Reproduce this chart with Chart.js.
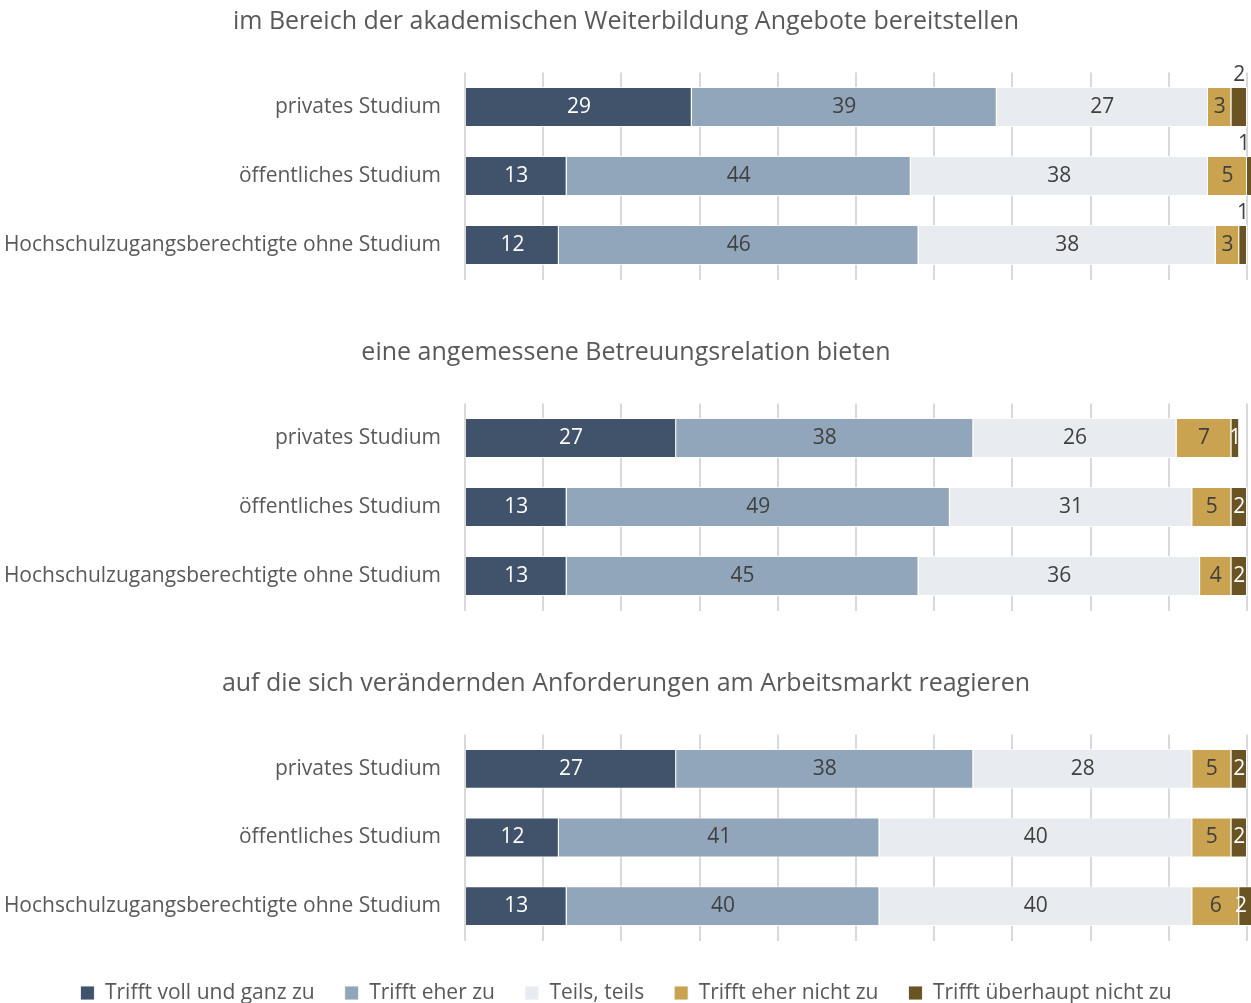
<!DOCTYPE html>
<html lang="de">
<head>
    <meta charset="UTF-8">
    <title>Zustimmung nach Studienart</title>
    <script src="https://cdn.jsdelivr.net/npm/chart.js"></script>
    <style>
        body {
            margin: 0;
            background: #ffffff;
            font-family: "Open Sans", sans-serif;
        }
        .wrap {
            position: relative;
            width: 1251px;
            height: 1003px;
            overflow: hidden;
        }
        .panel {
            position: absolute;
            left: 0;
            width: 1251px;
        }
    </style>
</head>
<body>
    <div class="wrap">
        <div class="panel" style="top:0;height:331px"><canvas id="c1"></canvas></div>
        <div class="panel" style="top:331px;height:331px"><canvas id="c2"></canvas></div>
        <div class="panel" style="top:662px;height:356px"><canvas id="c3"></canvas></div>
    </div>

    <script>
        const panelTitles = [
            'im Bereich der akademischen Weiterbildung Angebote bereitstellen',
            'eine angemessene Betreuungsrelation bieten',
            'auf die sich verändernden Anforderungen am Arbeitsmarkt reagieren'
        ];
        const categories = ['privates Studium', 'öffentliches Studium', 'Hochschulzugangsberechtigte ohne Studium'];
        const seriesNames = ['Trifft voll und ganz zu', 'Trifft eher zu', 'Teils, teils', 'Trifft eher nicht zu', 'Trifft überhaupt nicht zu'];
        const gridTicks = [0, 10, 20, 30, 40, 50, 60, 70, 80, 90, 100];

        // je drei Werte pro Block, Blöcke in der Reihenfolge der Titel
        const trifftVoll      = [29, 13, 12,  27, 13, 13,  27, 12, 13];
        const trifftEher      = [39, 44, 46,  38, 49, 45,  38, 41, 40];
        const teilsTeils      = [27, 38, 38,  26, 31, 36,  28, 40, 40];
        const eherNicht       = [3, 5, 3,     7, 5, 4,     5, 5, 6];
        const ueberhauptNicht = [2, 1, 1,     1, 2, 2,     2, 2, 2];

        const seriesValues = [trifftVoll, trifftEher, teilsTeils, eherNicht, ueberhauptNicht];
        const seriesColors = ['#41536a', '#91a6ba', '#e8ebef', '#c9a34f', '#6a5423'];
        const labelColors = ['#ffffff', '#404040', '#404040', '#404040', '#ffffff'];
        const textGray = '#595959';

        // Zahlen in die Balken schreiben; kleine Werte optional über den Balken
        const valueLabels = {
            id: 'valueLabels',
            afterDatasetsDraw(chart, args, opts) {
                const ctx = chart.ctx;
                const area = chart.chartArea;
                ctx.save();
                ctx.font = '21px "Open Sans"';
                ctx.textAlign = 'center';
                ctx.textBaseline = 'middle';
                chart.data.datasets.forEach((ds, di) => {
                    const meta = chart.getDatasetMeta(di);
                    meta.data.forEach((bar, i) => {
                        const p = bar.getProps(['x', 'y', 'base'], true);
                        let x = (p.x + p.base) / 2;
                        let y = p.y;
                        ctx.fillStyle = labelColors[di];
                        if (opts.above && di === chart.data.datasets.length - 1) {
                            x = Math.min(x, area.right - 3);
                            y = p.y - 32;
                            ctx.fillStyle = '#404040';
                        } else {
                            x = Math.min(x, area.right - 6);
                        }
                        ctx.fillText(String(ds.data[i]), x, y);
                    });
                });
                ctx.restore();
            }
        };

        function makePanel(canvasId, p, withLegend, smallAbove) {
            const datasets = seriesNames.map((name, s) => ({
                label: name,
                data: seriesValues[s].slice(p * 3, p * 3 + 3),
                backgroundColor: seriesColors[s],
                borderColor: 'rgba(255,255,255,0.85)',
                borderWidth: 1,
                barPercentage: 1,
                categoryPercentage: 0.58,
                clip: false
            }));

            return new Chart(document.getElementById(canvasId), {
                type: 'bar',
                data: { labels: categories, datasets: datasets },
                options: {
                    indexAxis: 'y',
                    responsive: true,
                    maintainAspectRatio: false,
                    animation: false,
                    layout: {
                        padding: { left: 5, right: 4, top: 0, bottom: withLegend ? 4.5 : 51.5 }
                    },
                    scales: {
                        x: {
                            stacked: true,
                            min: 0,
                            max: 100,
                            afterBuildTicks: (scale) => {
                                scale.ticks = gridTicks.map(v => ({ value: v }));
                            },
                            afterFit: (scale) => { scale.height = withLegend ? 12 : 0; },
                            ticks: { display: false },
                            grid: { color: '#d9d9d9', lineWidth: 2, drawTicks: false },
                            border: { display: false }
                        },
                        y: {
                            stacked: true,
                            afterFit: (scale) => { scale.width = 460; },
                            ticks: {
                                color: textGray,
                                padding: 16,
                                font: { family: 'Open Sans', size: 21 }
                            },
                            grid: { display: false },
                            border: { display: false }
                        }
                    },
                    plugins: {
                        title: {
                            display: true,
                            text: panelTitles[p],
                            color: textGray,
                            font: { family: 'Open Sans', size: 25, weight: 'normal' },
                            padding: { top: 7, bottom: 35.5 }
                        },
                        legend: {
                            display: withLegend,
                            position: 'bottom',
                            labels: {
                                color: textGray,
                                boxWidth: 14,
                                boxHeight: 14,
                                padding: 30,
                                font: { family: 'Open Sans', size: 21 }
                            }
                        },
                        tooltip: { enabled: false },
                        valueLabels: { above: smallAbove }
                    }
                },
                plugins: [valueLabels]
            });
        }

        makePanel('c1', 0, false, true);
        makePanel('c2', 1, false, false);
        makePanel('c3', 2, true, false);
    </script>
</body>
</html>
